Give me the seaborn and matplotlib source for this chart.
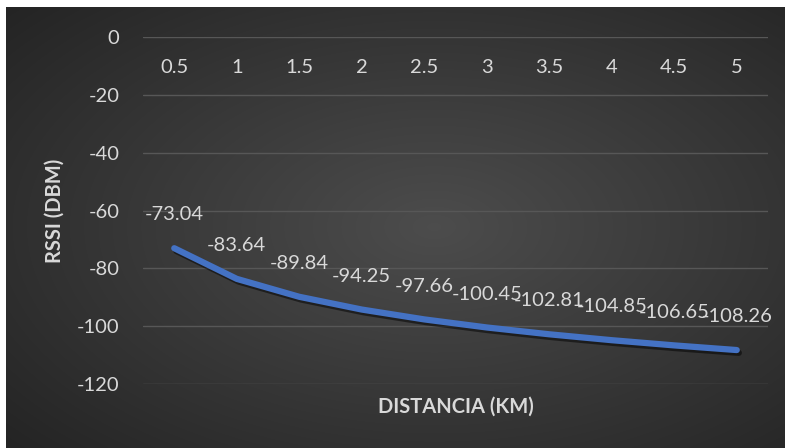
import numpy as np
import pandas as pd
import matplotlib
matplotlib.use("Agg")
import matplotlib.pyplot as plt
import matplotlib.patheffects as pe
import seaborn as sns

distancia_km = [0.5, 1, 1.5, 2, 2.5, 3, 3.5, 4, 4.5, 5]
rssi_dbm = [-73.04, -83.64, -89.84, -94.25, -97.66, -100.45, -102.81, -104.85, -106.65, -108.26]
x_tick_labels = ["0.5", "1", "1.5", "2", "2.5", "3", "3.5", "4", "4.5", "5"]
y_ticks = [0, -20, -40, -60, -80, -100, -120]

df = pd.DataFrame({"distancia": distancia_km, "rssi": rssi_dbm})

sns.set_theme(style="dark")
plt.rcParams["font.family"] = ["Lato", "DejaVu Sans"]

W, H = 785, 448
fig = plt.figure(figsize=(W / 100, H / 100), dpi=100)
fig.patch.set_facecolor("white")

# dark radial-gradient chart background
bg = fig.add_axes([6 / W, 0, 1 - 6 / W, 1 - 7 / H])
bg.set_axis_off()
yy, xx = np.mgrid[0:1:300j, 0:1:500j]
r = np.sqrt(((xx - 0.55) / 0.75) ** 2 + ((yy - 0.5) / 0.75) ** 2)
shade = np.clip(0.30 - 0.16 * r, 0.14, 0.30)
bg.imshow(np.dstack([shade, shade, shade]), aspect="auto", extent=[0, 1, 0, 1],
          interpolation="bilinear")

txt = "#d9d9d9"
fs = 14.5
ax = fig.add_axes([143 / W, 1 - 384 / H, (768 - 143) / W, (384 - 37) / H])
ax.set_facecolor("none")
ax.set_xlim(0.25, 5.25)
ax.set_ylim(-120, 0)

for s in ax.spines.values():
    s.set_visible(False)
ax.set_yticks(y_ticks)
ax.set_yticklabels([str(v) for v in y_ticks])
ax.grid(axis="y", color="#575757", linewidth=1.0)
ax.grid(axis="x", visible=False)
ax.set_xticks([])
ax.tick_params(axis="y", left=False, pad=11, labelsize=fs, labelcolor=txt)

sns.lineplot(data=df, x="distancia", y="rssi", ax=ax, color="#4472c4", linewidth=4.5,
             solid_capstyle="round", solid_joinstyle="round", legend=False,
             path_effects=[pe.SimpleLineShadow(offset=(1.5, -2), alpha=0.5, shadow_color="black"),
                           pe.Normal()])

# category labels sit just below the zero line
for xv, lab in zip(distancia_km, x_tick_labels):
    ax.annotate(lab, (xv, 0), xytext=(0, -22), textcoords="offset points",
                ha="center", va="center", color=txt, fontsize=fs)

# value labels above each point
for xv, yv in zip(distancia_km, rssi_dbm):
    ax.annotate(f"{yv:.2f}", (xv, yv), xytext=(0, 24), textcoords="offset points",
                ha="center", va="center", color=txt, fontsize=fs)

ax.set_xlabel("")
ax.set_ylabel("RSSI (DBM)", color=txt, fontsize=14.5, fontweight="bold")
ax.yaxis.set_label_coords(-0.125, 0.5)
ax.text(0.5008, -0.066, "DISTANCIA (KM)", transform=ax.transAxes, ha="center", va="center",
        color=txt, fontsize=14.5, fontweight="bold")

fig.savefig("out.png", dpi=100)
